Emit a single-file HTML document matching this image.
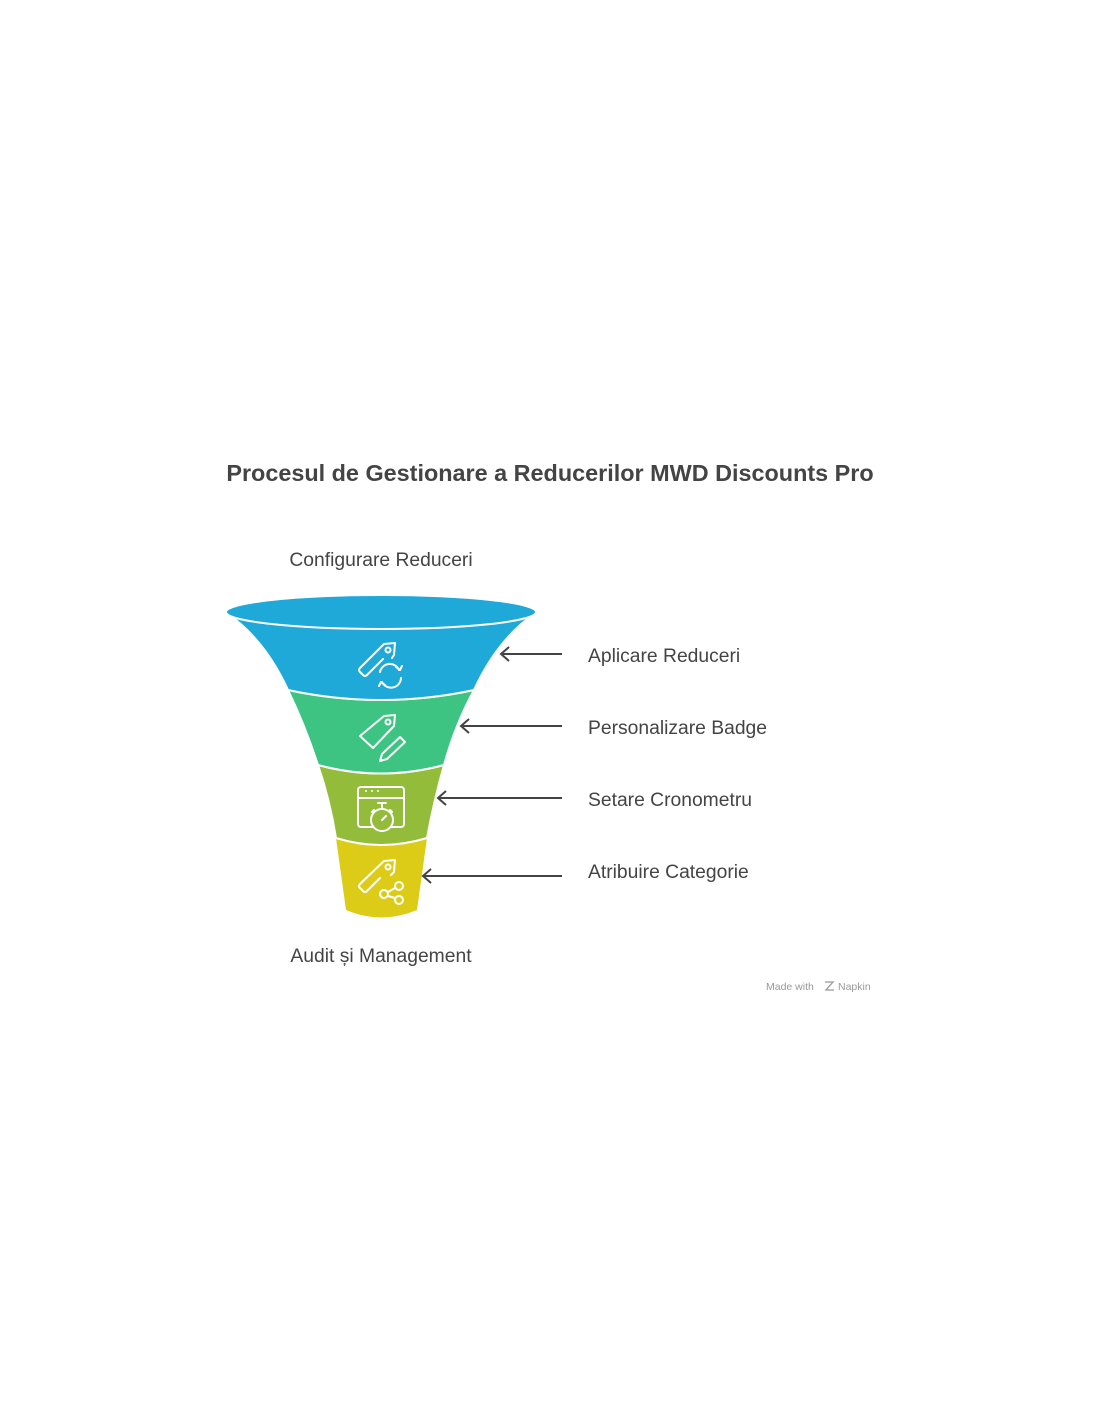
<!DOCTYPE html>
<html><head><meta charset="utf-8"><style>
body{margin:0;background:#fff;width:1100px;height:1422px;overflow:hidden;font-family:"Liberation Sans",sans-serif;}
</style></head><body>
<svg width="1100" height="1422" viewBox="0 0 1100 1422" xmlns="http://www.w3.org/2000/svg" font-family="Liberation Sans, sans-serif">
<text x="550" y="481" text-anchor="middle" font-size="23.4" font-weight="bold" fill="#444">Procesul de Gestionare a Reducerilor MWD Discounts Pro</text>
<text x="381" y="566" text-anchor="middle" font-size="19.3" fill="#444">Configurare Reduceri</text>
<text x="381" y="962" text-anchor="middle" font-size="19.3" fill="#444">Audit și Management</text>
<path d="M336,838 Q381,850 427,838 L417,910 Q381,925 346,910 Z" fill="#dccc18"/>
<path d="M318,765 Q381,782 444,765 Q434,800 427,838 Q381,852 336,838 Q330,800 318,765 Z" fill="#92bc3a" stroke="#fff" stroke-width="2"/>
<path d="M288,690 Q381,710 474,690 Q455,725 444,765 Q381,782 318,765 Q305,725 288,690 Z" fill="#3dc482" stroke="#fff" stroke-width="2"/>
<path d="M228,614 Q265,640 288,690 Q381,710 474,690 Q497,640 534,614 Z" fill="#1fa9d9" stroke="#fff" stroke-width="2"/>
<ellipse cx="381" cy="612" rx="155" ry="17" fill="#1fa9d9" stroke="#fff" stroke-width="2"/>
<g fill="none" stroke="#fff" stroke-width="2" stroke-linecap="round" stroke-linejoin="round">
<path d="M383,659 L367,675 Q365,677 363,675 L360,672 Q358,670 360,668 L384,644 L395,643 L394,655 L392,658"/><circle cx="388" cy="650" r="2.5"/>
<path d="M380,672 A10,10 0 0 1 399,670 M401,678 A10,10 0 0 1 382,682 M396,667 L400,670 L402,666 M385,685 L381,682 L379,686"/>
<path d="M384,716 L395,715 L394,726 L373,748 L360,736 Z"/><circle cx="388" cy="722" r="2.5"/>
<path d="M400,737 L405,742 L387,759 L380,761 L382,754 Z"/>
<rect x="358" y="787" width="46" height="40" rx="3"/><path d="M358,798 L404,798"/>
<circle cx="382" cy="820" r="11" fill="#92bc3a"/><path d="M382,820 L386,816 M378,803 L386,803 M382,803 L382,809 M372,812 L374,810 M392,812 L390,810"/>
<path d="M380,878 L367,891 Q365,893 363,891 L360,888 Q358,886 360,884 L384,861 L395,860 L394,872 L391,875"/><circle cx="388" cy="867" r="2.5"/>
<circle cx="399" cy="886" r="4"/><circle cx="384" cy="894" r="4"/><circle cx="399" cy="900" r="4"/><path d="M388,892 L395,888 M388,896 L395,898"/>
</g>
<circle cx="366" cy="791" r="1" fill="#fff"/><circle cx="372" cy="791" r="1" fill="#fff"/><circle cx="378" cy="791" r="1" fill="#fff"/>
<g stroke="#444" stroke-width="2" fill="none">
<path d="M562,654 L501,654 M509,647 L501,654 L509,661"/>
<path d="M562,726 L461,726 M469,719 L461,726 L469,733"/>
<path d="M562,798 L438,798 M446,791 L438,798 L446,805"/>
<path d="M562,876 L423,876 M431,869 L423,876 L431,883"/>
</g>
<g font-size="19.3" fill="#444">
<text x="588" y="662">Aplicare Reduceri</text>
<text x="588" y="734">Personalizare Badge</text>
<text x="588" y="806">Setare Cronometru</text>
<text x="588" y="878">Atribuire Categorie</text>
</g>
<text x="766" y="990" font-size="10.5" fill="#999">Made with</text>
<text x="838" y="990" font-size="10.5" fill="#999">Napkin</text>
<path d="M825,982 L833,982 L826,990 L834,990" stroke="#999" stroke-width="1.3" fill="none"/>
</svg>
</body></html>
